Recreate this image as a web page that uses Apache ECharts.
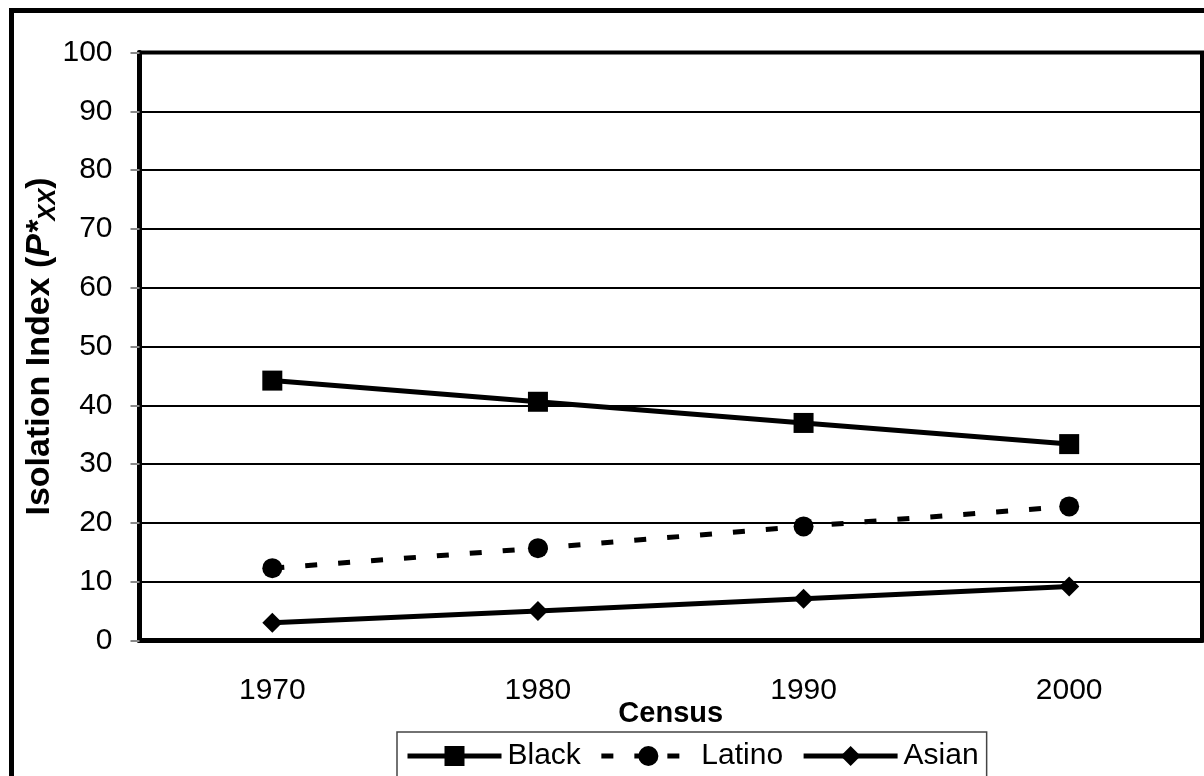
<!DOCTYPE html>
<html>
<head>
<meta charset="utf-8">
<script src="https://cdn.jsdelivr.net/npm/echarts@6/dist/echarts.min.js"></script>
<style>
html,body{margin:0;padding:0;background:#fff;}
#chart{width:1204px;height:776px;}
</style>
</head>
<body>
<div id="chart"></div>
<script>
var categories = ['1970', '1980', '1990', '2000'];
var black = [44.2, 40.6, 37.0, 33.4];
var latino = [12.3, 15.7, 19.4, 22.8];
var asian = [3.0, 5.0, 7.1, 9.2];
var seriesNames = ['Black', 'Latino', 'Asian'];

var FONT = '"Liberation Sans", Arial, sans-serif';
var chart = echarts.init(document.getElementById('chart'), null, {renderer: 'canvas'});

chart.setOption({
  animation: false,
  backgroundColor: '#fff',
  textStyle: {fontFamily: FONT, color: '#000'},
  graphic: [{
    type: 'rect',
    shape: {x: 11.5, y: 10.5, width: 1400, height: 1000},
    style: {fill: 'none', stroke: '#000', lineWidth: 5},
    z: 100
  }],
  grid: {
    left: 139.5, top: 52.5, right: 2, bottom: 135.5,
    show: true, borderColor: '#000', borderWidth: 4, backgroundColor: 'transparent'
  },
  legend: {
    data: seriesNames,
    left: 397, top: 732,
    padding: [9, 8, 30, 8],
    borderColor: '#444', borderWidth: 1.5,
    itemWidth: 94, itemHeight: 25, itemGap: 18,
    lineStyle: {width: 5},
    textStyle: {fontFamily: FONT, fontSize: 30, color: '#000', padding: [0, 0, 0, 1]}
  },
  xAxis: {
    type: 'category',
    data: categories,
    boundaryGap: true,
    name: 'Census',
    nameLocation: 'middle',
    nameGap: 59,
    nameMoveOverlap: false,
    nameTextStyle: {fontFamily: FONT, fontSize: 29, fontWeight: 'bold', color: '#000'},
    axisLine: {show: true, lineStyle: {color: '#000', width: 5}},
    axisTick: {show: false},
    axisLabel: {fontFamily: FONT, fontSize: 30, color: '#000', margin: 35}
  },
  yAxis: {
    type: 'value',
    min: 0, max: 100, interval: 10,
    name: '{b|Isolation Index (}{i|P*}{s|XX}{b|)}',
    nameLocation: 'middle',
    nameRotate: 90,
    nameGap: 79,
    nameMoveOverlap: false,
    nameTextStyle: {
      rich: {
        b: {fontFamily: FONT, fontSize: 34, fontWeight: 'bold', color: '#000'},
        i: {fontFamily: FONT, fontSize: 34, fontWeight: 'bold', fontStyle: 'italic', color: '#000'},
        s: {fontFamily: FONT, fontSize: 24, fontWeight: 'bold', fontStyle: 'italic', color: '#000', padding: [18, 0, 0, 0]}
      }
    },
    axisLine: {show: true, lineStyle: {color: '#000', width: 5}},
    axisTick: {show: true, length: 9, lineStyle: {color: '#888', width: 2}},
    axisLabel: {fontFamily: FONT, fontSize: 30, color: '#000', margin: 27},
    splitLine: {show: true, lineStyle: {color: '#000', width: 2}}
  },
  series: [
    {
      name: 'Black', type: 'line', data: black,
      symbol: 'rect', symbolSize: 20,
      lineStyle: {color: '#000', width: 5},
      itemStyle: {color: '#000'}
    },
    {
      name: 'Latino', type: 'line', data: latino,
      symbol: 'circle', symbolSize: 20,
      lineStyle: {color: '#000', width: 5, type: [12, 21]},
      itemStyle: {color: '#000'}
    },
    {
      name: 'Asian', type: 'line', data: asian,
      symbol: 'diamond', symbolSize: 20,
      lineStyle: {color: '#000', width: 5},
      itemStyle: {color: '#000'}
    }
  ]
});
</script>
</body>
</html>
